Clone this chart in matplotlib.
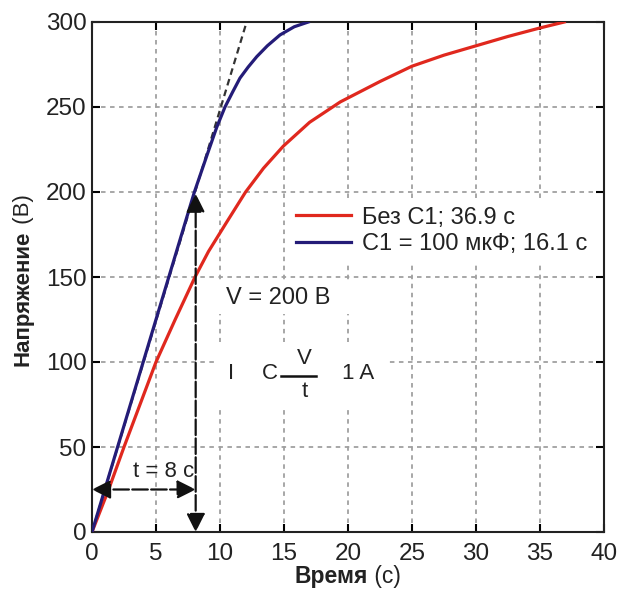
import matplotlib
matplotlib.use("Agg")
import matplotlib.pyplot as plt
from matplotlib.patches import Rectangle

plt.rcParams['font.family'] = ['Liberation Sans', 'DejaVu Sans']

# red curve: without C1
t_red = [0, 1.3, 2.5, 5.0, 6.5, 8.05, 9.1, 10.5, 12.0, 13.4, 14.95, 17.0, 19.4,
         22.5, 25, 27.5, 30, 32.5, 35, 36.9]
v_red = [0, 25, 50, 100, 125, 150, 165, 182, 200, 214, 227, 241, 253,
         265, 274, 280.5, 286, 291.5, 296.5, 300]

# blue curve: C1 = 100 uF
t_blue = [0, 2.0, 4.0, 6.0, 8.0, 9.0, 9.74, 10.39, 11.0, 11.56, 12.2, 12.87,
          13.7, 14.69, 15.8, 16.9]
v_blue = [0, 50, 100, 150, 200, 222, 238, 250, 259, 267, 273.5, 279.6,
          286, 292.4, 297.2, 300]

# tangent (dashed)
t_tan = [0, 12.08]
v_tan = [0, 300]

labels = ["Без С1; 36.9 с", "С1 = 100 мкФ; 16.1 с"]
xticks = [0, 5, 10, 15, 20, 25, 30, 35, 40]
yticks = [0, 50, 100, 150, 200, 250, 300]

fig = plt.figure(figsize=(6.17, 5.89), dpi=100)
ax = fig.add_axes([92 / 617, 57 / 589, 512 / 617, 510 / 589])

ax.plot(t_tan, v_tan, color='#333333', lw=1.6, ls=(0, (3, 2)), zorder=3)
ax.plot(t_red, v_red, color='#e0281e', lw=2.3, label=labels[0], zorder=4)
ax.plot(t_blue, v_blue, color='#241c78', lw=2.3, label=labels[1], zorder=5)

ax.set_xlim(0, 40)
ax.set_ylim(0, 300)
ax.set_xticks(xticks)
ax.set_yticks(yticks)
ax.grid(True, color='#a0a0a0', ls=(0, (2.5, 2.5)), lw=1.3)
ax.set_axisbelow(True)
ax.tick_params(direction='in', length=6, width=1.5, labelsize=17.5, colors='black',
               labelcolor='#222222', top=True, right=True)
ax.tick_params(axis='x', pad=8)
ax.tick_params(axis='y', pad=4)
for s in ax.spines.values():
    s.set_linewidth(1.5)
    s.set_color('#222222')

# arrows
arrow_kw = dict(arrowstyle='<|-|>', mutation_scale=28, color='#111111', lw=1.6,
                ls=(0, (7, 1.5)), shrinkA=0, shrinkB=0)
ax.annotate("", xy=(8.1, 199), xytext=(8.1, 0), arrowprops=arrow_kw, zorder=6)
ax.annotate("", xy=(8.1, 25), xytext=(0, 25), arrowprops=arrow_kw, zorder=6)
ax.text(5.6, 35.5, "t = 8 с", fontsize=16, ha='center', va='center', color='#222222')

# white boxes behind annotations
ax.add_patch(Rectangle((9.6, 128), 14.3, 19, facecolor='white', edgecolor='none', zorder=1.5))
ax.add_patch(Rectangle((9.6, 72), 13.6, 40, facecolor='white', edgecolor='none', zorder=1.5))
ax.text(10.5, 137.5, "V = 200 В", fontsize=17, ha='left', va='center', color='#222222')
ax.text(10.9, 93.5, "I", fontsize=16, ha='center', va='center', color='#222222')
ax.text(13.9, 93.5, "C", fontsize=16, ha='center', va='center', color='#222222')
ax.plot([14.8, 17.5], [91.9, 91.9], color='#111111', lw=1.8)
ax.text(16.6, 102, "V", fontsize=16, ha='center', va='center', color='#222222')
ax.text(16.6, 82.5, "t", fontsize=16, ha='center', va='center', color='#222222')
ax.text(20.8, 93.5, "1 A", fontsize=16, ha='center', va='center', color='#222222')

leg = ax.legend(loc='upper left', bbox_to_anchor=(0.385, 0.652), fontsize=17,
                frameon=True, fancybox=False, edgecolor='none', framealpha=1,
                handlelength=2.3, handletextpad=0.5, labelspacing=0.2,
                borderpad=0.3, borderaxespad=0)
for txt in leg.get_texts():
    txt.set_color('#222222')

# axis labels with mixed weight
fig.canvas.draw()
r = fig.canvas.get_renderer()

xb = fig.text(0, 6 / 589, "Время", fontsize=16.5, fontweight='bold', color='#222222',
              ha='left', va='baseline')
xn = fig.text(0, 6 / 589, " (с)", fontsize=16.5, color='#222222', ha='left', va='baseline')
wb = xb.get_window_extent(r).width
wn = xn.get_window_extent(r).width
x0 = 348 - (wb + wn) / 2
xb.set_x(x0 / 617)
xn.set_x((x0 + wb) / 617)

yb = fig.text(34 / 617, 0, "Напряжение", fontsize=16, fontweight='bold', color='#222222',
              rotation=90, ha='right', va='bottom')
yn = fig.text(34 / 617, 0, " (В)", fontsize=16, color='#222222',
              rotation=90, ha='right', va='bottom')
hb = yb.get_window_extent(r).height
hn = yn.get_window_extent(r).height
y0 = (589 - 280) - (hb + hn) / 2
yb.set_y(y0 / 589)
yn.set_y((y0 + hb) / 589)

fig.savefig("out.png", dpi=100)
